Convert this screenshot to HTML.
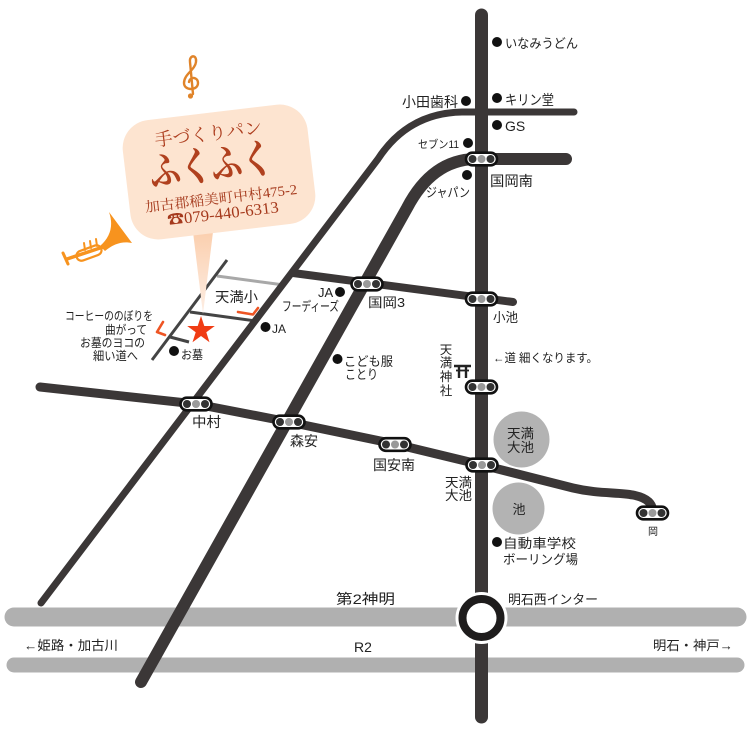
<!DOCTYPE html>
<html><head><meta charset="utf-8"><style>
html,body{margin:0;padding:0;background:#fff;}
svg{display:block;}
text{font-family:"Liberation Sans","Noto Sans CJK JP",sans-serif;fill:#222;}
.serif{font-family:"Liberation Serif","Noto Serif CJK SC",serif;}
</style></head><body>
<svg width="750" height="730" viewBox="0 0 750 730" xmlns="http://www.w3.org/2000/svg">
<defs>
<g id="sig"><rect x="-15.5" y="-6.3" width="31" height="12.6" rx="6.3" fill="#fff" stroke="#111" stroke-width="2.6"/><circle cx="-9" cy="0" r="4" fill="#333"/><circle cx="0" cy="0" r="4" fill="#9a9a9a"/><circle cx="9" cy="0" r="4" fill="#333"/></g>
<linearGradient id="pg" x1="0" y1="0" x2="0" y2="1"><stop offset="0" stop-color="#fbcfae"/><stop offset="1" stop-color="#fdeee4"/></linearGradient>
</defs>

<!-- grey highways -->
<line x1="14" y1="617" x2="737" y2="617" stroke="#b0b0b0" stroke-width="19" stroke-linecap="round"/>
<line x1="14" y1="665" x2="737" y2="665" stroke="#b0b0b0" stroke-width="15" stroke-linecap="round"/>

<!-- thin local lines near star -->
<line x1="217" y1="276" x2="284" y2="285" stroke="#a8a8a8" stroke-width="3"/>
<line x1="190" y1="312" x2="256" y2="321" stroke="#444" stroke-width="3"/>
<line x1="170" y1="337" x2="189" y2="342" stroke="#444" stroke-width="3"/>
<line x1="227" y1="260" x2="152" y2="360" stroke="#444" stroke-width="3"/>

<!-- dark roads -->
<g fill="none" stroke="#3b3737" stroke-linecap="round" stroke-linejoin="round">
<path d="M41,603 L378,159 Q408,113 462,112 L574,112" stroke-width="7"/>
<path d="M141,682 L407,208 Q432,160 475,159 L566,159" stroke-width="12"/>
<path d="M293,273 L513,302" stroke-width="8"/>
<path d="M40,387 L196,404 L289,422 L395,444 L482,465 L573,488 C598,494 618,492 633,495 C648,498 653,504 653,513" stroke-width="9"/>
<path d="M481.5,15 L481.5,717" stroke-width="13"/>
</g>

<!-- interchange ring -->
<circle cx="481.5" cy="618" r="26" fill="#fff"/>
<circle cx="481.5" cy="618" r="19" fill="#fff" stroke="#1e1c1c" stroke-width="8"/>

<!-- ponds -->
<circle cx="521.5" cy="439.5" r="28" fill="#b3b3b3"/>
<circle cx="518.5" cy="508.5" r="26" fill="#b3b3b3"/>

<!-- signals -->
<use href="#sig" x="481.5" y="159"/>
<use href="#sig" x="367" y="284"/>
<use href="#sig" x="481.5" y="299"/>
<use href="#sig" x="481.5" y="387"/>
<use href="#sig" x="196" y="404"/>
<use href="#sig" x="289" y="422"/>
<use href="#sig" x="395" y="444.5"/>
<use href="#sig" x="482" y="465"/>
<use href="#sig" x="652.5" y="513"/>

<!-- torii -->
<g stroke="#222" stroke-width="2.4" fill="none">
<line x1="454" y1="366" x2="471" y2="366"/>
<line x1="456" y1="370.5" x2="469" y2="370.5" stroke-width="1.8"/>
<line x1="459" y1="366" x2="459" y2="378"/>
<line x1="466" y1="366" x2="466" y2="378"/>
</g>

<!-- dots -->
<g fill="#111">
<circle cx="497" cy="42" r="5"/>
<circle cx="466" cy="101" r="5"/>
<circle cx="497" cy="98" r="5"/>
<circle cx="497" cy="125" r="5"/>
<circle cx="468" cy="143" r="5"/>
<circle cx="467" cy="175" r="5"/>
<circle cx="340" cy="292" r="5"/>
<circle cx="265.5" cy="327" r="5"/>
<circle cx="337.5" cy="359" r="5"/>
<circle cx="174" cy="351" r="5"/>
<circle cx="497" cy="542" r="5"/>
</g>

<!-- labels -->
<g font-size="13">
<text x="505" y="48" textLength="73" lengthAdjust="spacingAndGlyphs">いなみうどん</text>
<text x="402" y="107" font-size="14" textLength="56" lengthAdjust="spacingAndGlyphs">小田歯科</text>
<text x="505" y="105" font-size="14" textLength="49" lengthAdjust="spacingAndGlyphs">キリン堂</text>
<text x="505" y="131" font-size="14">GS</text>
<text x="418" y="148" font-size="11" textLength="41" lengthAdjust="spacingAndGlyphs">セブン11</text>
<text x="490" y="186" font-size="14" textLength="43" lengthAdjust="spacingAndGlyphs">国岡南</text>
<text x="426" y="197" textLength="44" lengthAdjust="spacingAndGlyphs">ジャパン</text>
<text x="215" y="302" font-size="14" textLength="43" lengthAdjust="spacingAndGlyphs">天満小</text>
<text x="318" y="297" font-size="13">JA</text>
<text x="282" y="311" textLength="57" lengthAdjust="spacingAndGlyphs">フーディーズ</text>
<text x="272" y="333" font-size="12">JA</text>
<text x="368" y="307" textLength="37" lengthAdjust="spacingAndGlyphs">国岡3</text>
<text x="493" y="322" textLength="25" lengthAdjust="spacingAndGlyphs">小池</text>
<text x="344" y="366" textLength="49" lengthAdjust="spacingAndGlyphs">こども服</text>
<text x="345" y="379" textLength="33" lengthAdjust="spacingAndGlyphs">ことり</text>
<text x="446" y="354" font-size="12.5" text-anchor="middle">天</text>
<text x="446" y="367" font-size="12.5" text-anchor="middle">満</text>
<text x="446" y="381" font-size="12.5" text-anchor="middle">神</text>
<text x="446" y="395" font-size="12.5" text-anchor="middle">社</text>
<text x="493" y="362" font-size="12" textLength="105" lengthAdjust="spacingAndGlyphs">←道 細くなります。</text>
<text x="192" y="427" font-size="14" textLength="29" lengthAdjust="spacingAndGlyphs">中村</text>
<text x="290" y="446" font-size="14" textLength="28" lengthAdjust="spacingAndGlyphs">森安</text>
<text x="373" y="470" font-size="14" textLength="42" lengthAdjust="spacingAndGlyphs">国安南</text>
<text x="445" y="487" textLength="27" lengthAdjust="spacingAndGlyphs">天満</text>
<text x="445" y="500" textLength="27" lengthAdjust="spacingAndGlyphs">大池</text>
<text x="507" y="438" textLength="27" lengthAdjust="spacingAndGlyphs">天満</text>
<text x="507" y="452" textLength="27" lengthAdjust="spacingAndGlyphs">大池</text>
<text x="519" y="514" text-anchor="middle">池</text>
<text x="653" y="535" font-size="10" text-anchor="middle">岡</text>
<text x="503" y="548" textLength="73" lengthAdjust="spacingAndGlyphs">自動車学校</text>
<text x="503" y="564" textLength="75" lengthAdjust="spacingAndGlyphs">ボーリング場</text>
<text x="336" y="604" font-size="14" textLength="59" lengthAdjust="spacingAndGlyphs">第2神明</text>
<text x="508" y="604" textLength="90" lengthAdjust="spacingAndGlyphs">明石西インター</text>
<text x="24" y="650" textLength="94" lengthAdjust="spacingAndGlyphs">←姫路・加古川</text>
<text x="354" y="652" font-size="14">R2</text>
<text x="653" y="650" textLength="80" lengthAdjust="spacingAndGlyphs">明石・神戸→</text>
<text x="65" y="320" font-size="12" textLength="88" lengthAdjust="spacingAndGlyphs">コーヒーののぼりを</text>
<text x="105" y="334" font-size="12" textLength="42" lengthAdjust="spacingAndGlyphs">曲がって</text>
<text x="80" y="347" font-size="12" textLength="65" lengthAdjust="spacingAndGlyphs">お墓のヨコの</text>
<text x="93" y="360" font-size="12" textLength="45" lengthAdjust="spacingAndGlyphs">細い道へ</text>
<text x="181" y="359" font-size="12" textLength="22" lengthAdjust="spacingAndGlyphs">お墓</text>
</g>

<!-- pointer -->
<polygon points="193,232 213,232 203,314" fill="url(#pg)"/>

<!-- orange turn marks -->
<g fill="none" stroke="#ee5524" stroke-width="2.6" stroke-linecap="round" stroke-linejoin="round">
<polyline points="238,312 253,314.5 258,308"/>
<polyline points="163,322 157,332 165,335"/>
</g>

<!-- star -->
<polygon points="201,316 204.3,326 214.8,326 206.3,332.2 209.5,342.2 201,336 192.5,342.2 195.7,332.2 187.2,326 197.7,326" fill="#f03c14"/>

<!-- callout -->
<g transform="rotate(-6.8 219 172)">
<rect x="126" y="112" width="186" height="120" rx="28" fill="#fde4d0"/>
<text class="serif" x="213" y="139" font-size="18" text-anchor="middle" textLength="108" lengthAdjust="spacingAndGlyphs" style="fill:#ad3d1e">手づくりパン</text>
<text class="serif" x="212" y="178" font-size="40" font-weight="bold" text-anchor="middle" textLength="124" lengthAdjust="spacingAndGlyphs" style="fill:#b0401e">ふくふく</text>
<text class="serif" x="218" y="203" font-size="14" text-anchor="middle" textLength="153" lengthAdjust="spacingAndGlyphs" style="fill:#a5391c">加古郡稲美町中村475-2</text>
<text class="serif" x="218" y="219" font-size="16" text-anchor="middle" textLength="112" lengthAdjust="spacingAndGlyphs" style="fill:#a5391c">☎079-440-6313</text>
</g>

<!-- treble clef -->
<g fill="none" stroke="#e0842a" stroke-width="2.4" stroke-linecap="round">
<path d="M193,94 L190,62 C189,55 197,54 196,62 C195,70 184,74 184,83 C184,91 198,91 198,83 C198,77 190,76 189,82"/>
</g>
<circle cx="190.5" cy="96" r="2.6" fill="#e0842a"/>

<!-- trumpet -->
<g fill="#f7931e" stroke="none">
<path d="M109,212 Q116,232 100,246 L105,251 Q118,240 132,243 Z"/>
</g>
<g fill="none" stroke="#f7931e" stroke-linecap="round" stroke-linejoin="round">
<line x1="103" y1="247" x2="67" y2="259" stroke-width="3.5"/>
<line x1="63" y1="253" x2="68" y2="264" stroke-width="3"/>
<rect x="76" y="248" width="26" height="10" rx="5" stroke-width="2.2" transform="rotate(-20 89 253)"/>
<line x1="84" y1="243" x2="85" y2="250" stroke-width="2"/>
<line x1="90" y1="241" x2="91" y2="248" stroke-width="2"/>
<line x1="96" y1="239" x2="97" y2="246" stroke-width="2"/>
</g>
</svg>
</body></html>
